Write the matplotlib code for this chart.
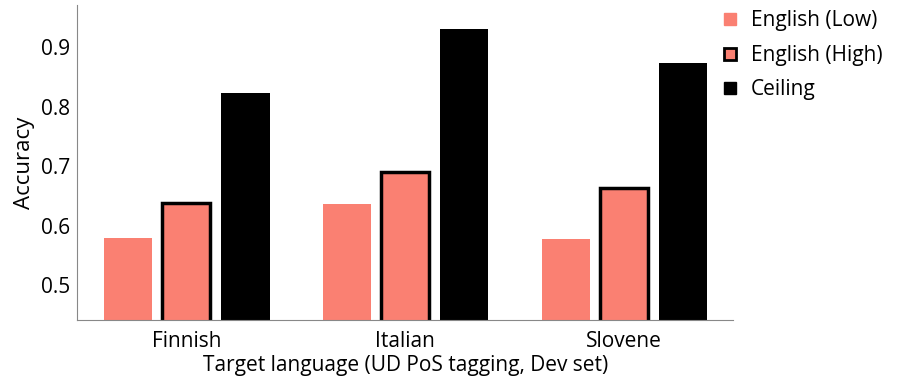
import numpy as np
import matplotlib.pyplot as plt
from matplotlib.lines import Line2D

plt.rcParams['font.family'] = ['Open Sans', 'DejaVu Sans']

## Data
languages = ["Finnish", "Italian", "Slovene"]
eng_low = [0.579, 0.636, 0.577]
eng_high = [0.638, 0.690, 0.663]
ceiling = [0.823, 0.931, 0.874]

salmon = "#fa8072"

fig = plt.figure(figsize=(9.13, 3.84), dpi=100)
ax = fig.add_axes([0.0843, 0.1667, 0.719, 0.82])

x = np.arange(len(languages))
w = 0.22
ax.bar(x - 0.265, eng_low, w, color=salmon)
ax.bar(x, eng_high, w, color=salmon, edgecolor="black", linewidth=2.5)
ax.bar(x + 0.27, ceiling, w, color="black")

ax.set_xlim(-0.5, 2.5)
ax.set_ylim(0.441, 0.971)
ax.set_yticks([0.5, 0.6, 0.7, 0.8, 0.9])
ax.set_xticks(x)
ax.set_xticklabels(languages)
ax.tick_params(length=0, labelsize=15, pad=5)
ax.tick_params(axis="x", pad=8)
ax.set_ylabel("Accuracy", fontsize=16, labelpad=4)
ax.set_xlabel("Target language (UD PoS tagging, Dev set)", fontsize=15, labelpad=2)

for s in ["top", "right"]:
    ax.spines[s].set_visible(False)
for s in ["left", "bottom"]:
    ax.spines[s].set_color("#888888")

handles = [
    Line2D([], [], marker="s", ls="", color=salmon, markersize=9),
    Line2D([], [], marker="s", ls="", markerfacecolor=salmon, markeredgecolor="black",
           markeredgewidth=2, markersize=9),
    Line2D([], [], marker="s", ls="", color="black", markersize=9),
]
fig.legend(handles, ["English (Low)", "English (High)", "Ceiling"],
           loc="upper left", bbox_to_anchor=(0.765, 1.022), frameon=False,
           fontsize=15, handletextpad=0.4, handlelength=1.2, labelspacing=0.65)

fig.savefig("out.png", dpi=100)
